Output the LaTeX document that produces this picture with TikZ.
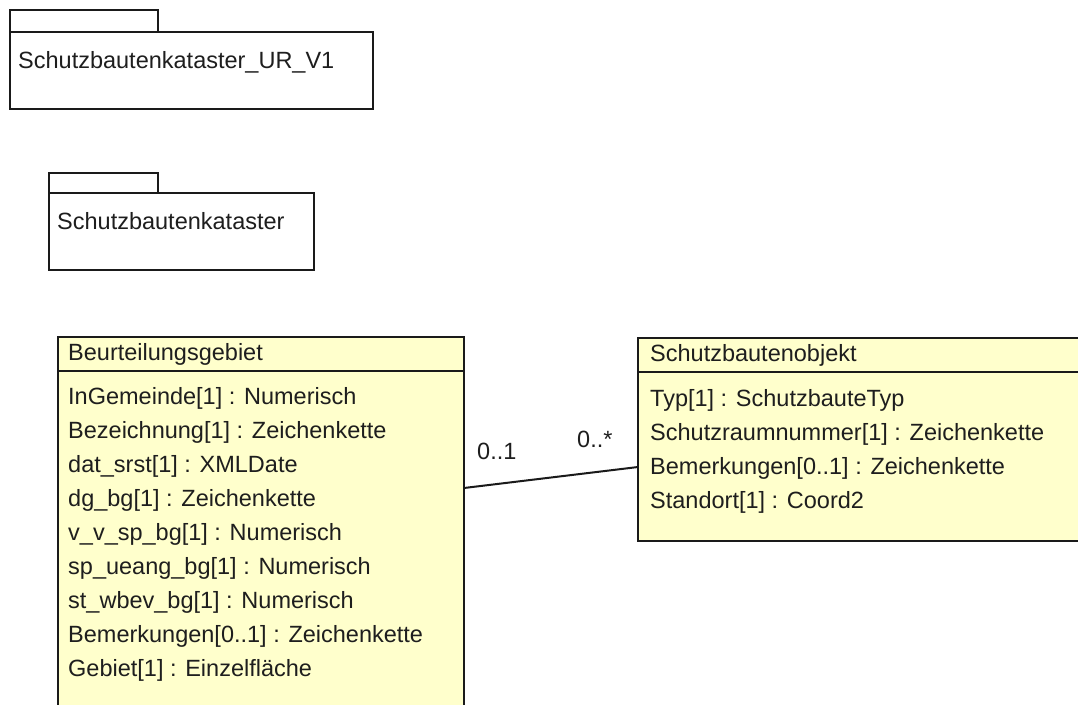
\documentclass[tikz,border=0pt]{standalone}
\usepackage{fontspec}
\setmainfont{Liberation Sans}
\definecolor{umlfill}{HTML}{FFFFCC}
\definecolor{umlline}{HTML}{1A1A1A}
\definecolor{umltext}{HTML}{1E1E1E}
\begin{document}
\begin{tikzpicture}[x=1pt,y=-1pt,
  txt/.style={anchor=base west, inner sep=0pt, font=\fontsize{23.5}{28}\selectfont, text=umltext},
  outline/.style={draw=umlline, line width=1.3pt},
  classbox/.style={outline, fill=umlfill},
  assoc/.style={draw=umlline, line width=2pt}]
\useasboundingbox (0,0) rectangle (1078,704);
\clip (0,0) rectangle (1078,704);
\fill[white] (0,0) rectangle (1078,704);

% package 1
\draw[outline] (10,10) rectangle (158,32);
\draw[outline] (10,32) rectangle (373,109);
\node[txt] (p1t) at (18,68) {Schutzbautenkataster\_UR\_V1};

% package 2
\draw[outline] (49,173) rectangle (158,193);
\draw[outline] (49,193) rectangle (314,270);
\node[txt] (p2t) at (57,229) {Schutzbautenkataster};

% class 1
\draw[classbox] (58,337) rectangle (464,720);
\draw[outline] (58,371) -- (464,371);
\node[txt] (c1h) at (68,360) {Beurteilungsgebiet};
\node[txt] (c1a1) at (68,404) {InGemeinde[1] : Numerisch};
\node[txt] (c1a2) at (68,438) {Bezeichnung[1] : Zeichenkette};
\node[txt] (c1a3) at (68,472) {dat\_srst[1] : XMLDate};
\node[txt] (c1a4) at (68,506) {dg\_bg[1] : Zeichenkette};
\node[txt] (c1a5) at (68,540) {v\_v\_sp\_bg[1] : Numerisch};
\node[txt] (c1a6) at (68,574) {sp\_ueang\_bg[1] : Numerisch};
\node[txt] (c1a7) at (68,608) {st\_wbev\_bg[1] : Numerisch};
\node[txt] (c1a8) at (68,642) {Bemerkungen[0..1] : Zeichenkette};
\node[txt] (c1a9) at (68,676) {Gebiet[1] : Einzelfläche};

% class 2
\draw[classbox] (638,338) rectangle (1095,541);
\draw[outline] (638,372) -- (1095,372);
\node[txt] (c2h) at (650,361) {Schutzbautenobjekt};
\node[txt] (c2a1) at (650,406) {Typ[1] : SchutzbauteTyp};
\node[txt] (c2a2) at (650,440) {Schutzraumnummer[1] : Zeichenkette};
\node[txt] (c2a3) at (650,474) {Bemerkungen[0..1] : Zeichenkette};
\node[txt] (c2a4) at (650,508) {Standort[1] : Coord2};

% association
\coordinate (e1) at (464,488);
\coordinate (e2) at (638,467);
\draw[assoc] (e1) -- (e2);
\node[txt] (m1) at (477,459) {0..1};
\node[txt] (m2) at (577,447) {0..*};
\end{tikzpicture}
\end{document}
